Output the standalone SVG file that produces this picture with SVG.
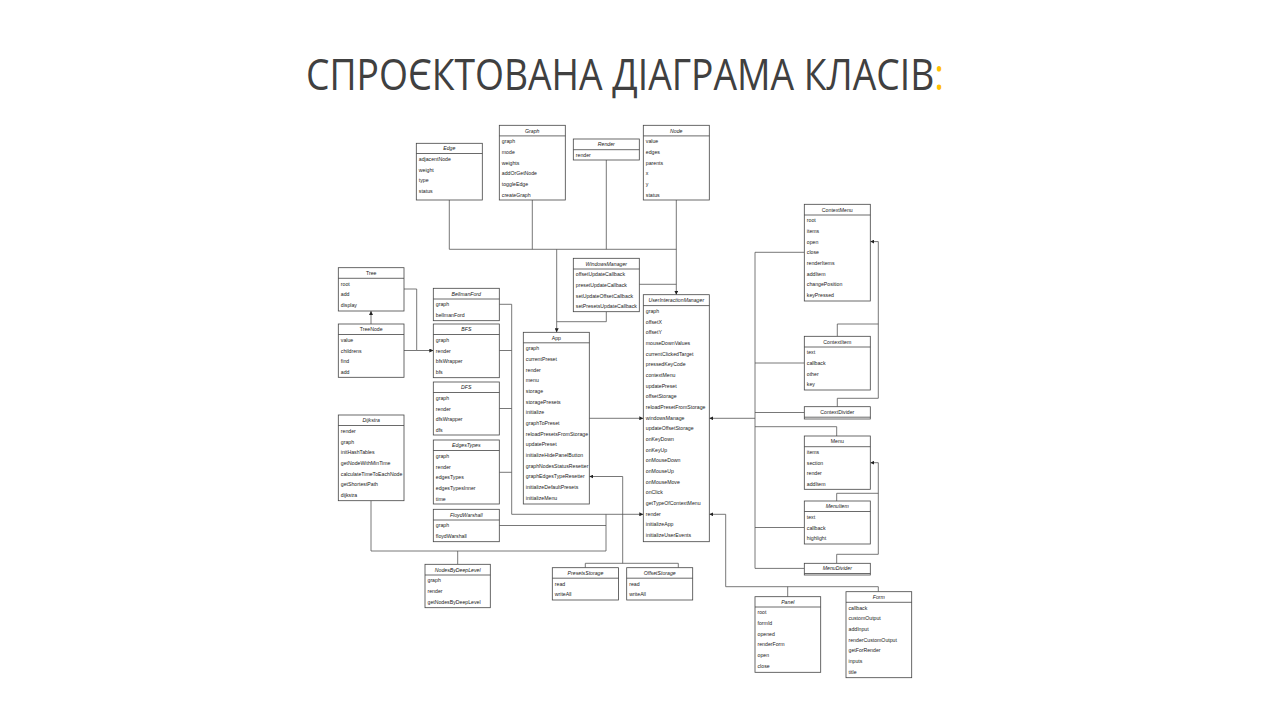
<svg xmlns="http://www.w3.org/2000/svg" width="1280" height="720" viewBox="0 0 1280 720">
<style>
.c rect{fill:#fff;stroke:#444;stroke-width:.8}
.c line{stroke:#444;stroke-width:.8}
.c text{font-family:"Liberation Sans",Arial,sans-serif;font-size:5.2px;fill:#222;dominant-baseline:central}
.c text.h{text-anchor:middle}
.c text.i{font-style:italic}
#connectors polyline{fill:none;stroke:#555;stroke-width:.8}
.title{font-family:"Open Sans","Noto Sans",sans-serif;font-weight:400;font-size:43px;fill:#404040}
</style>
<defs>
<marker id="ar" viewBox="0 0 10 10" refX="10" refY="5" markerWidth="4" markerHeight="4" markerUnits="userSpaceOnUse" orient="auto"><path d="M0,0 L10,5 L0,10 z" fill="#222"/></marker>
</defs>
<rect width="1280" height="720" fill="#fff"/>
<text class="title" x="306" y="90" textLength="638" lengthAdjust="spacingAndGlyphs">СПРОЄКТОВАНА ДІАГРАМА КЛАСІВ<tspan style="fill:#FFC000">:</tspan></text>

<g id="connectors">
<polyline points="449.3,200 449.3,249.3 676.3,249.3"/>
<polyline points="532.3,200 532.3,249.3"/>
<polyline points="606.3,160 606.3,249.3"/>
<polyline points="676.3,200 676.3,294.7" marker-end="url(#ar)"/>
<polyline points="556.7,249.3 556.7,332.3" marker-end="url(#ar)"/>
<polyline points="606.3,311.7 606.3,321.7 556.7,321.7"/>
<polyline points="639.3,284.3 676.3,284.3"/>
<polyline points="371,324 371,311" marker-end="url(#ar)"/>
<polyline points="404,289 416.7,289 416.7,350.5 433.3,350.5" marker-end="url(#ar)"/>
<polyline points="404,350.5 416.7,350.5"/>
<polyline points="499.3,304.3 511.7,304.3 511.7,514.3 643.3,514.3" marker-end="url(#ar)"/>
<polyline points="499.3,350.5 511.7,350.5"/>
<polyline points="499.3,408.5 511.7,408.5"/>
<polyline points="499.3,472.3 511.7,472.3"/>
<polyline points="499.3,525.5 606,525.5"/>
<polyline points="606,514.3 606,551"/>
<polyline points="371,500.7 371,551 606,551"/>
<polyline points="457.7,564.3 457.7,551"/>
<polyline points="589.3,418.3 643.3,418.3" marker-end="url(#ar)"/>
<polyline points="585.3,567.7 585.3,563.3 678.3,563.3 678.3,567.7"/>
<polyline points="622.7,563.3 622.7,476.5 589.3,476.5" marker-end="url(#ar)"/>
<polyline points="878.3,591.7 878.3,586.7 725.7,586.7 725.7,514.3 709.3,514.3" marker-end="url(#ar)"/>
<polyline points="787.7,596.7 787.7,586.7"/>
<polyline points="804.3,252.3 755,252.3 755,568.4 804.3,568.4"/>
<polyline points="755,363 804.3,363"/>
<polyline points="755,412.5 804.3,412.5"/>
<polyline points="755,426.7 836.7,426.7 836.7,436"/>
<polyline points="755,527.5 804.3,527.5"/>
<polyline points="755,418.3 709.3,418.3" marker-end="url(#ar)"/>
<polyline points="878.3,398.3 878.3,241.6 870.3,241.6" marker-end="url(#ar)"/>
<polyline points="837.3,336.3 837.3,324 878.3,324"/>
<polyline points="837.3,406.7 837.3,398.3 878.3,398.3"/>
<polyline points="878.3,554.3 878.3,462.7 870.3,462.7" marker-end="url(#ar)"/>
<polyline points="836.7,501 836.7,493.3 878.3,493.3"/>
<polyline points="836.7,563.3 836.7,554.3 878.3,554.3"/>
</g>

<g id="Edge" class="c"><rect x="416.3" y="143.3" width="66" height="56.7"/><line x1="416.3" y1="153.5" x2="482.3" y2="153.5"/>
<text class="h i" x="449.3" y="148.4">Edge</text>
<text x="418.8" y="158.8">adjacentNode</text><text x="418.8" y="169.5">weight</text><text x="418.8" y="180.2">type</text><text x="418.8" y="190.8">status</text></g>

<g id="Graph" class="c"><rect x="499.3" y="125.3" width="66" height="74.7"/><line x1="499.3" y1="135.9" x2="565.3" y2="135.9"/>
<text class="h i" x="532.3" y="130.6">Graph</text>
<text x="501.8" y="141.3">graph</text><text x="501.8" y="152">mode</text><text x="501.8" y="162.6">weights</text><text x="501.8" y="173.3">addOrGetNode</text><text x="501.8" y="184">toggleEdge</text><text x="501.8" y="194.6">createGraph</text></g>

<g id="Render" class="c"><rect x="573.3" y="139" width="66" height="21"/><line x1="573.3" y1="149.7" x2="639.3" y2="149.7"/>
<text class="h i" x="606.3" y="144.3">Render</text>
<text x="575.8" y="155">render</text></g>

<g id="Node" class="c"><rect x="643.3" y="125.3" width="66" height="74.7"/><line x1="643.3" y1="135.9" x2="709.3" y2="135.9"/>
<text class="h i" x="676.3" y="130.6">Node</text>
<text x="645.8" y="141.3">value</text><text x="645.8" y="152">edges</text><text x="645.8" y="162.6">parents</text><text x="645.8" y="173.3">x</text><text x="645.8" y="184">y</text><text x="645.8" y="194.6">status</text></g>

<g id="WindowsManager" class="c"><rect x="573.3" y="258.3" width="66" height="53.4"/><line x1="573.3" y1="269" x2="639.3" y2="269"/>
<text class="h i" x="606.3" y="263.6">WindowsManager</text>
<text x="575.8" y="274.3">offsetUpdateCallback</text><text x="575.8" y="285">presetUpdateCallback</text><text x="575.8" y="295.7">setUpdateOffsetCallback</text><text x="575.8" y="306.3">setPresetsUpdateCallback</text></g>

<g id="UserInteractionManager" class="c"><rect x="643.3" y="294.7" width="66" height="247"/><line x1="643.3" y1="305.6" x2="709.3" y2="305.6"/>
<text class="h i" x="676.3" y="300.2">UserInteractionManager</text>
<text x="645.8" y="311">graph</text><text x="645.8" y="321.7">offsetX</text><text x="645.8" y="332.3">offsetY</text><text x="645.8" y="343">mouseDownValues</text><text x="645.8" y="353.7">currentClickedTarget</text><text x="645.8" y="364.3">pressedKeyCode</text><text x="645.8" y="375">contextMenu</text><text x="645.8" y="385.7">updatePreset</text><text x="645.8" y="396.3">offsetStorage</text><text x="645.8" y="407">reloadPresetFromStorage</text><text x="645.8" y="417.7">windowsManage</text><text x="645.8" y="428.3">updateOffsetStorage</text><text x="645.8" y="439">onKeyDown</text><text x="645.8" y="449.7">onKeyUp</text><text x="645.8" y="460.3">onMouseDown</text><text x="645.8" y="471">onMouseUp</text><text x="645.8" y="481.7">onMouseMove</text><text x="645.8" y="492.3">onClick</text><text x="645.8" y="503">getTypeOfContextMenu</text><text x="645.8" y="513.7">render</text><text x="645.8" y="524.3">initializeApp</text><text x="645.8" y="535">initializeUserEvents</text></g>

<g id="Tree" class="c"><rect x="338.3" y="267.7" width="65.7" height="43.3"/><line x1="338.3" y1="278.3" x2="404" y2="278.3"/>
<text class="h" x="371.2" y="273">Tree</text>
<text x="340.8" y="283.6">root</text><text x="340.8" y="294.3">add</text><text x="340.8" y="305">display</text></g>

<g id="TreeNode" class="c"><rect x="338.3" y="324" width="65.7" height="53.3"/><line x1="338.3" y1="334.5" x2="404" y2="334.5"/>
<text class="h" x="371.2" y="329.2">TreeNode</text>
<text x="340.8" y="339.8">value</text><text x="340.8" y="350.5">childrens</text><text x="340.8" y="361.2">find</text><text x="340.8" y="371.8">add</text></g>

<g id="BellmanFord" class="c"><rect x="433.3" y="288.3" width="66" height="32.4"/><line x1="433.3" y1="299" x2="499.3" y2="299"/>
<text class="h i" x="466.3" y="293.6">BellmanFord</text>
<text x="435.8" y="304.3">graph</text><text x="435.8" y="315">bellmanFord</text></g>

<g id="BFS" class="c"><rect x="433.3" y="324" width="66" height="53.7"/><line x1="433.3" y1="334.5" x2="499.3" y2="334.5"/>
<text class="h i" x="466.3" y="329.2">BFS</text>
<text x="435.8" y="339.8">graph</text><text x="435.8" y="350.5">render</text><text x="435.8" y="361.2">bfsWrapper</text><text x="435.8" y="371.8">bfs</text></g>

<g id="DFS" class="c"><rect x="433.3" y="382" width="66" height="53"/><line x1="433.3" y1="392.5" x2="499.3" y2="392.5"/>
<text class="h i" x="466.3" y="387.2">DFS</text>
<text x="435.8" y="397.8">graph</text><text x="435.8" y="408.5">render</text><text x="435.8" y="419.2">dfsWrapper</text><text x="435.8" y="429.8">dfs</text></g>

<g id="EdgesTypes" class="c"><rect x="433.3" y="440" width="66" height="64"/><line x1="433.3" y1="450.5" x2="499.3" y2="450.5"/>
<text class="h i" x="466.3" y="445.2">EdgesTypes</text>
<text x="435.8" y="455.8">graph</text><text x="435.8" y="466.5">render</text><text x="435.8" y="477.2">edgesTypes</text><text x="435.8" y="487.8">edgesTypesInner</text><text x="435.8" y="498.5">time</text></g>

<g id="FloydWarshall" class="c"><rect x="433.3" y="509.3" width="66" height="32.4"/><line x1="433.3" y1="520" x2="499.3" y2="520"/>
<text class="h i" x="466.3" y="514.6">FloydWarshall</text>
<text x="435.8" y="525.3">graph</text><text x="435.8" y="536">floydWarshall</text></g>

<g id="Dijkstra" class="c"><rect x="338.3" y="415" width="65.7" height="85.7"/><line x1="338.3" y1="425.5" x2="404" y2="425.5"/>
<text class="h i" x="371.2" y="420.2">Dijkstra</text>
<text x="340.8" y="430.8">render</text><text x="340.8" y="441.5">graph</text><text x="340.8" y="452.2">initHashTables</text><text x="340.8" y="462.8">getNodeWithMinTime</text><text x="340.8" y="473.5">calculateTimeToEachNode</text><text x="340.8" y="484.2">getShortestPath</text><text x="340.8" y="494.8">dijkstra</text></g>

<g id="NodesByDeepLevel" class="c"><rect x="425" y="564.3" width="65.3" height="43.4"/><line x1="425" y1="575" x2="490.3" y2="575"/>
<text class="h i" x="457.7" y="569.6">NodesByDeepLevel</text>
<text x="427.5" y="580.3">graph</text><text x="427.5" y="591">render</text><text x="427.5" y="601.6">getNodesByDeepLevel</text></g>

<g id="App" class="c"><rect x="523.3" y="332.3" width="66" height="171.7"/><line x1="523.3" y1="342.8" x2="589.3" y2="342.8"/>
<text class="h" x="556.3" y="337.5">App</text>
<text x="525.8" y="348.1">graph</text><text x="525.8" y="358.8">currentPreset</text><text x="525.8" y="369.5">render</text><text x="525.8" y="380.1">menu</text><text x="525.8" y="390.8">storage</text><text x="525.8" y="401.5">storagePresets</text><text x="525.8" y="412.1">initialize</text><text x="525.8" y="422.8">graphToPreset</text><text x="525.8" y="433.5">reloadPresetsFromStorage</text><text x="525.8" y="444.1">updatePreset</text><text x="525.8" y="454.8">initializeHidePanelButton</text><text x="525.8" y="465.5">graphNodesStatusResetter</text><text x="525.8" y="476.1">graphEdgesTypeResetter</text><text x="525.8" y="486.8">initializeDefaultPresets</text><text x="525.8" y="497.5">initializeMenu</text></g>

<g id="PresetsStorage" class="c"><rect x="552.3" y="567.7" width="66.3" height="32.3"/><line x1="552.3" y1="578.2" x2="618.6" y2="578.2"/>
<text class="h i" x="585.5" y="573">PresetsStorage</text>
<text x="554.8" y="583.5">read</text><text x="554.8" y="594.2">writeAll</text></g>

<g id="OffsetStorage" class="c"><rect x="626.7" y="567.7" width="66" height="32.3"/><line x1="626.7" y1="578.2" x2="692.7" y2="578.2"/>
<text class="h i" x="659.7" y="573">OffsetStorage</text>
<text x="629.2" y="583.5">read</text><text x="629.2" y="594.2">writeAll</text></g>

<g id="ContextMenu" class="c"><rect x="804.3" y="204.3" width="66" height="96.7"/><line x1="804.3" y1="215" x2="870.3" y2="215"/>
<text class="h" x="837.3" y="209.6">ContextMenu</text>
<text x="806.8" y="220.3">root</text><text x="806.8" y="231">items</text><text x="806.8" y="241.6">open</text><text x="806.8" y="252.3">close</text><text x="806.8" y="263">renderItems</text><text x="806.8" y="273.6">addItem</text><text x="806.8" y="284.3">changePosition</text><text x="806.8" y="295">keyPressed</text></g>

<g id="ContextItem" class="c"><rect x="804.3" y="336.3" width="66" height="53.7"/><line x1="804.3" y1="347" x2="870.3" y2="347"/>
<text class="h" x="837.3" y="341.6">ContextItem</text>
<text x="806.8" y="352.3">text</text><text x="806.8" y="363">callback</text><text x="806.8" y="373.6">other</text><text x="806.8" y="384.3">key</text></g>

<g id="ContextDivider" class="c"><rect x="804.3" y="406.7" width="66" height="12.3"/><line x1="804.3" y1="417.2" x2="870.3" y2="417.2"/>
<text class="h" x="837.3" y="412">ContextDivider</text></g>

<g id="Menu" class="c"><rect x="804.3" y="436" width="66" height="53.3"/><line x1="804.3" y1="446.7" x2="870.3" y2="446.7"/>
<text class="h" x="837.3" y="441.3">Menu</text>
<text x="806.8" y="452">items</text><text x="806.8" y="462.7">section</text><text x="806.8" y="473.3">render</text><text x="806.8" y="484">addItem</text></g>

<g id="MenuItem" class="c"><rect x="804.3" y="501" width="66" height="43"/><line x1="804.3" y1="511.5" x2="870.3" y2="511.5"/>
<text class="h i" x="837.3" y="506.2">MenuItem</text>
<text x="806.8" y="516.8">text</text><text x="806.8" y="527.5">callback</text><text x="806.8" y="538.2">highlight</text></g>

<g id="MenuDivider" class="c"><rect x="804.3" y="563.3" width="66" height="11.7"/><line x1="804.3" y1="573.5" x2="870.3" y2="573.5"/>
<text class="h i" x="837.3" y="568.4">MenuDivider</text></g>

<g id="Panel" class="c"><rect x="755" y="596.7" width="65.7" height="75.6"/><line x1="755" y1="607" x2="820.7" y2="607"/>
<text class="h i" x="787.8" y="601.8">Panel</text>
<text x="757.5" y="612.3">root</text><text x="757.5" y="623">formId</text><text x="757.5" y="633.7">opened</text><text x="757.5" y="644.3">renderForm</text><text x="757.5" y="655">open</text><text x="757.5" y="665.7">close</text></g>

<g id="Form" class="c"><rect x="846" y="591.7" width="65.7" height="86"/><line x1="846" y1="602.3" x2="911.7" y2="602.3"/>
<text class="h i" x="878.8" y="597">Form</text>
<text x="848.5" y="607.6">callback</text><text x="848.5" y="618.3">customOutput</text><text x="848.5" y="629">addInput</text><text x="848.5" y="639.6">renderCustomOutput</text><text x="848.5" y="650.3">getForRender</text><text x="848.5" y="661">inputs</text><text x="848.5" y="671.6">title</text></g>
</svg>
